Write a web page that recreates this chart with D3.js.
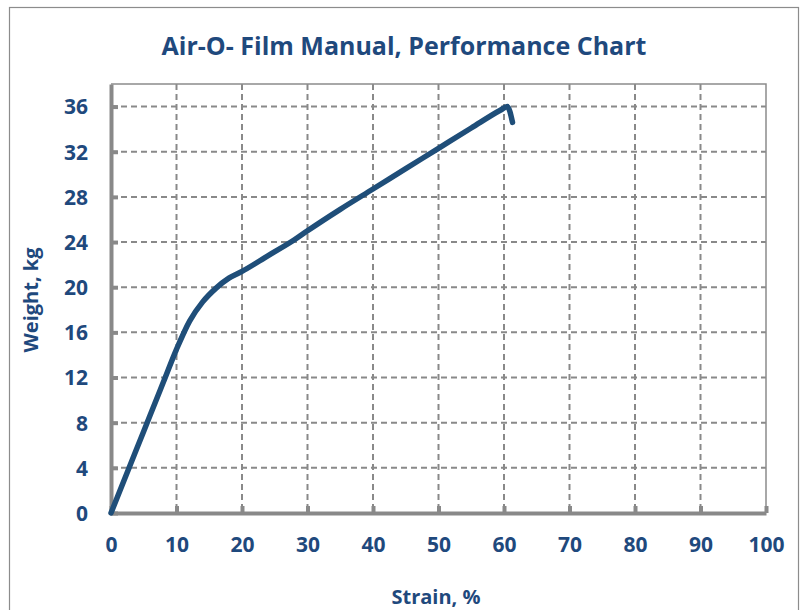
<!DOCTYPE html>
<html>
<head>
<meta charset="utf-8">
<script src="https://cdn.jsdelivr.net/npm/d3@7"></script>
<style>
  body { margin: 0; background: #fff; }
  svg text { font-family: "Open Sans", "Noto Sans", sans-serif; font-weight: bold; fill: #1F497D; }
</style>
</head>
<body>
<div id="chart"></div>
<script>
// data
const strain = [0, 2, 4, 6, 8, 10, 12, 14, 16, 18, 20, 24, 28, 30, 35, 40, 45, 50, 55, 59.5, 60.5, 61.3];
const weight = [0, 2.9, 5.8, 8.7, 11.6, 14.5, 17.0, 18.7, 19.9, 20.8, 21.4, 22.8, 24.2, 25.0, 26.9, 28.7, 30.5, 32.3, 34.1, 35.7, 36.0, 34.6];
const xTicks = [0, 10, 20, 30, 40, 50, 60, 70, 80, 90, 100];
const yTicks = [0, 4, 8, 12, 16, 20, 24, 28, 32, 36];

const width = 803, height = 610;
const margin = { left: 111, right: 37, top: 84, bottom: 97 };
const boundedWidth = width - margin.left - margin.right;
const boundedHeight = height - margin.top - margin.bottom;

const svg = d3.select('#chart')
    .append('svg')
    .attr('width', width)
    .attr('height', height);

// outer chart border
svg.append('rect')
    .attr('x', 9.5).attr('y', 7.5)
    .attr('width', 789).attr('height', 610)
    .attr('fill', 'none')
    .attr('stroke', '#8c8c8c')
    .attr('stroke-width', 1.2);

svg.append('text')
    .attr('x', 404).attr('y', 55)
    .attr('text-anchor', 'middle')
    .style('font-size', '25px')
    .text('Air-O- Film Manual, Performance Chart');

const xScale = d3.scaleLinear().domain([0, 100]).range([0, boundedWidth]);
const yScale = d3.scaleLinear().domain([0, 38]).range([boundedHeight, 0]);

const g = svg.append('g')
    .attr('transform', 'translate(' + margin.left + ',' + margin.top + ')');

// dashed grid
g.append('g')
    .selectAll('line')
    .data(yTicks.filter(d => d > 0))
    .join('line')
    .attr('x1', 0).attr('x2', boundedWidth)
    .attr('y1', d => yScale(d)).attr('y2', d => yScale(d))
    .attr('stroke', '#898989').attr('stroke-width', 2).attr('stroke-dasharray', '6,4');
g.append('g')
    .selectAll('line')
    .data(xTicks.filter(d => d > 0 && d < 100))
    .join('line')
    .attr('x1', d => xScale(d)).attr('x2', d => xScale(d))
    .attr('y1', 0).attr('y2', boundedHeight)
    .attr('stroke', '#898989').attr('stroke-width', 2).attr('stroke-dasharray', '6,4');

// top and right frame
g.append('path')
    .attr('d', 'M0,0H' + boundedWidth + 'V' + boundedHeight)
    .attr('fill', 'none')
    .attr('stroke', '#8c8c8c')
    .attr('stroke-width', 1.5);

// axes
const xAxis = g.append('g')
    .attr('transform', 'translate(0,' + boundedHeight + ')')
    .call(d3.axisBottom(xScale).tickValues(xTicks).tickSizeInner(-7).tickSizeOuter(0).tickPadding(24));
const yAxis = g.append('g')
    .call(d3.axisLeft(yScale).tickValues(yTicks).tickSizeInner(-7).tickSizeOuter(0).tickPadding(23));

[xAxis, yAxis].forEach(ax => {
    ax.select('.domain').attr('stroke', '#898989').attr('stroke-width', 4);
    ax.selectAll('.tick line').attr('stroke', '#898989').attr('stroke-width', 4);
    ax.selectAll('.tick text')
        .style('font-size', '21px')
        .style('font-family', '"Open Sans", sans-serif')
        .attr('fill', '#1F497D');
});
yAxis.selectAll('.tick text').attr('dy', '0.35em');

// curve
const line = d3.line()
    .x((d, i) => xScale(strain[i]))
    .y((d) => yScale(d))
    .curve(d3.curveMonotoneX);

g.append('path')
    .datum(weight)
    .attr('fill', 'none')
    .attr('stroke', '#1F4E79')
    .attr('stroke-width', 5.5)
    .attr('stroke-linecap', 'round')
    .attr('stroke-linejoin', 'round')
    .attr('d', line);

// axis titles
svg.append('text')
    .attr('transform', 'translate(38,300) rotate(-90)')
    .attr('text-anchor', 'middle')
    .style('font-size', '20px')
    .text('Weight, kg');
svg.append('text')
    .attr('x', 436).attr('y', 604)
    .attr('text-anchor', 'middle')
    .style('font-size', '20px')
    .text('Strain, %');
</script>
</body>
</html>
